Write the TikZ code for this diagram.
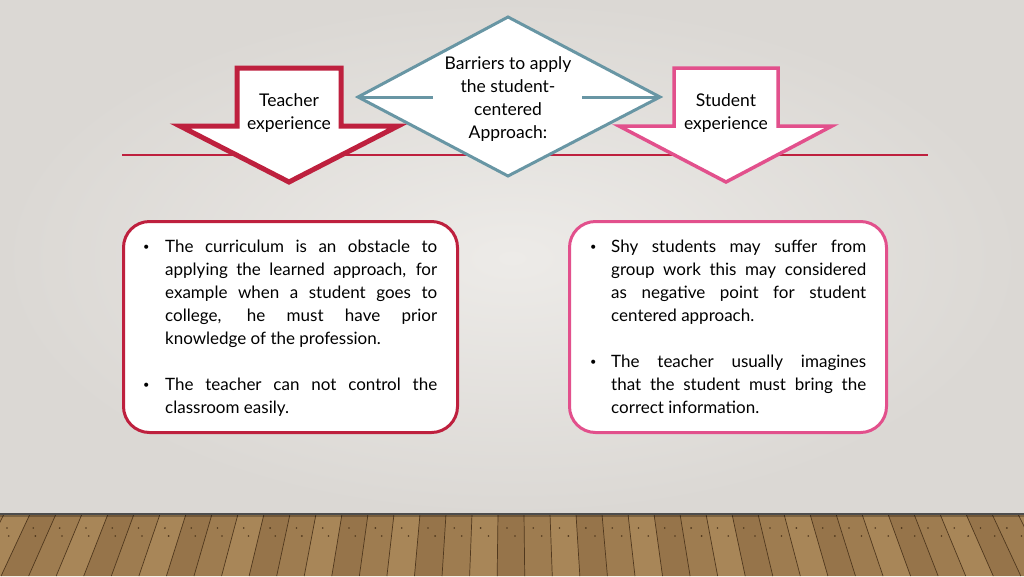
\documentclass[tikz,border=0pt]{standalone}
\usepackage{fontspec}
\setmainfont{Lato}
\definecolor{dred}{RGB}{190,32,62}
\definecolor{dpink}{RGB}{226,80,140}
\definecolor{teal}{RGB}{104,150,164}
\definecolor{bgout}{RGB}{219,216,212}
\definecolor{bgin}{RGB}{237,235,232}
\definecolor{woodA}{RGB}{158,124,80}
\definecolor{woodB}{RGB}{168,134,88}
\definecolor{woodC}{RGB}{150,116,74}
\definecolor{woodline}{RGB}{80,56,30}
\begin{document}
\begin{tikzpicture}[x=1pt,y=-1pt,
  bodytext/.style={inner sep=0pt,anchor=north west,align=justify,font=\fontsize{17}{23}\selectfont},
  bulletmark/.style={inner sep=0pt,anchor=north west,font=\fontsize{17}{23}\selectfont},
  labeltext/.style={inner sep=0pt,align=center,font=\fontsize{17.5}{23}\selectfont},
  boxframe/.style={draw,line width=3pt,fill=white,rounded corners=26pt}
]
\hyphenpenalty=10000 \exhyphenpenalty=10000
\newcommand{\smallbullet}{\strut\raisebox{1.5pt}{\fontsize{11}{11}\selectfont •}}
\useasboundingbox (0,0) rectangle (1024,576);
% background
\shade[inner color=bgin,outer color=bgout] (0,0) rectangle (1024,516);
% floor
\fill[woodA] (0,514) rectangle (1024,576);
\begin{scope}
\clip (0,514) rectangle (1024,576);
\foreach \i in {0,...,48}{
  \pgfmathsetmacro{\xa}{\i*26-100}
  \pgfmathsetmacro{\xb}{\xa+26}
  \pgfmathtruncatemacro{\m}{mod(\i*7+3,3)}
  \ifcase\m \colorlet{pcol}{woodA}\or \colorlet{pcol}{woodB}\else \colorlet{pcol}{woodC}\fi
  \fill[pcol] (\xa,514) -- (\xb,514) -- ({\xb+(\xb-512)*0.06},576) -- ({\xa+(\xa-512)*0.06},576) -- cycle;
  \draw[woodline,line width=0.7pt] (\xa,514) -- ({\xa+(\xa-512)*0.06},576);
  \fill[woodline] ({\xa+9+(\xa+9-512)*0.012},528) circle (0.9pt);
  \fill[woodline] ({\xa+17+(\xa+17-512)*0.025},536) circle (0.9pt);
}
\fill[black,opacity=0.25] (0,514) rectangle (1024,517);
\end{scope}
\draw[black!70,line width=1.5pt] (0,514) -- (1024,514);
% horizontal rule
\draw[dred,line width=2.5pt] (122,155) -- (928,155);
% left arrow
\draw[dred,line width=5pt,fill=white,line join=miter]
  (237,68) -- (341,68) -- (341,126) -- (398,126) -- (289,182) -- (180,126) -- (237,126) -- cycle;
\node[labeltext] (teacher) at (289,113) {Teacher\\experience};
% right arrow
\draw[dpink,line width=3.5pt,fill=white,line join=miter]
  (674,68) -- (778,68) -- (778,126) -- (832,126) -- (726,182) -- (619,126) -- (674,126) -- cycle;
\node[labeltext] (student) at (726,113) {Student\\experience};
% diamond
\draw[teal,line width=3pt,fill=white,line join=miter]
  (508,17) -- (660,97) -- (508,176) -- (358,97) -- cycle;
\coordinate (dl) at (358,97);
\coordinate (dr) at (660,97);
\coordinate (dli) at (433,97);
\coordinate (dri) at (582,97);
\draw[teal,line width=3pt] (dl) -- (dli);
\draw[teal,line width=3pt] (dri) -- (dr);
\node[labeltext] (barriers) at (508,99) {Barriers to apply\\the student-\\centered\\Approach:};
% left box
\node[boxframe,draw=dred,minimum width=334pt,minimum height=211pt,anchor=north west] (lbox) at (122,220) {};
\node[bulletmark] (lb1) at (143,236) {\smallbullet};
\node[bodytext,text width=272pt] (lt1) at (165,236) {\strut The curriculum is an obstacle to\linebreak applying the learned approach, for\linebreak example when a student goes to\linebreak college, he must have prior\linebreak knowledge of the profession.};
\node[bulletmark] (lb2) at (143,374) {\smallbullet};
\node[bodytext,text width=272pt] (lt2) at (165,374) {\strut The teacher can not control the\linebreak classroom easily.};
% right box
\node[boxframe,draw=dpink,minimum width=317pt,minimum height=211pt,anchor=north west] (rbox) at (568,220) {};
\node[bulletmark] (rb1) at (590,236) {\smallbullet};
\node[bodytext,text width=255pt] (rt1) at (611,236) {\strut Shy students may suffer from\linebreak group work this may considered\linebreak as negative point for student\linebreak centered approach.};
\node[bulletmark] (rb2) at (590,351) {\smallbullet};
\node[bodytext,text width=255pt] (rt2) at (611,351) {\strut The teacher usually imagines\linebreak that the student must bring the\linebreak correct information.};
\end{tikzpicture}
\end{document}
